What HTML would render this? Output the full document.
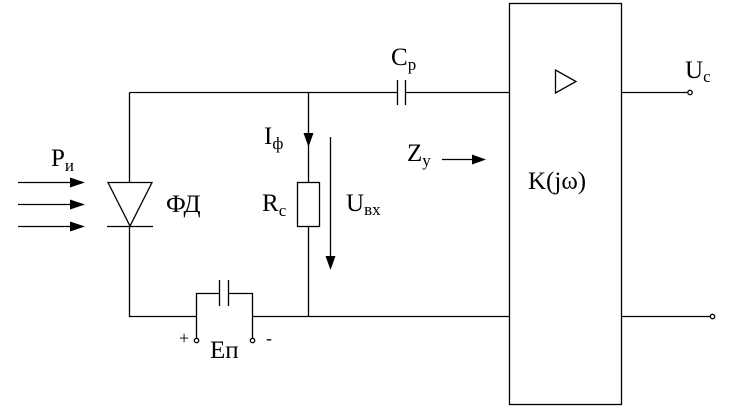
<!DOCTYPE html>
<html><head><meta charset="utf-8"><style>
html,body{margin:0;padding:0;background:#fff;width:735px;height:408px;overflow:hidden}
text{font-family:"Liberation Serif",serif;fill:#000}
.m{font-size:25px}.s{font-size:17px}
</style></head><body>
<svg width="735" height="408" viewBox="0 0 735 408" xmlns="http://www.w3.org/2000/svg">
<g stroke="#000" stroke-width="1.3" fill="none">
<rect x="509.5" y="3.5" width="112" height="401"/>
<path d="M129.5 92.5H397.5M405.5 92.5H509.5M621.5 92.5H687.5"/>
<path d="M397.5 80V105M405.5 80V105"/>
<path d="M129.5 92.5V182.5M129.5 226V316.5H196.5M252.5 316.5H509.5M621.5 316.5H710"/>
<path d="M108 182.5H152L130 226Z"/>
<path d="M107 226.5H153"/>
<path d="M308.5 92.5V182.5M308.5 226V316.5"/>
<rect x="297.5" y="182.5" width="22" height="44"/>
<path d="M330.5 137V258"/>
<path d="M196.5 339V293.5H219.5M228.5 293.5H252.5V339M219.5 280V306M228.5 280V306"/>
<path d="M18 182.5H72M18 204.5H72M18 226.5H72"/>
<path d="M442 159.5H474"/>
<path d="M555.5 70V93L576 81.5Z"/>
<circle cx="690" cy="92.5" r="2.2"/>
<circle cx="712.5" cy="316.5" r="2.2"/>
<circle cx="196.5" cy="340.5" r="2.2"/>
<circle cx="252.5" cy="340.5" r="2.2"/>
</g>
<g fill="#000">
<path d="M70 177.5L85 182.5L70 187.5Z"/>
<path d="M70 199.5L85 204.5L70 209.5Z"/>
<path d="M70 221.5L85 226.5L70 231.5Z"/>
<path d="M303.5 133L313.5 133L308.5 147Z"/>
<path d="M325.5 256L335.5 256L330.5 270Z"/>
<path d="M472 154.5L486 159.5L472 164.5Z"/>
</g>
<text class="m" x="51" y="166">P<tspan class="s" dy="5">и</tspan></text>
<text class="m" x="166" y="212">ФД</text>
<text class="m" x="264" y="144">I<tspan class="s" dy="5">ф</tspan></text>
<text class="m" x="262" y="211">R<tspan class="s" dy="5">c</tspan></text>
<text class="m" x="346" y="211">U<tspan class="s" dy="4">вх</tspan></text>
<text class="m" x="391" y="65">C<tspan class="s" dy="5">p</tspan></text>
<text class="m" x="407" y="161">Z<tspan class="s" dy="5">y</tspan></text>
<text class="m" x="528" y="189">K(jω)</text>
<text class="m" x="685" y="78">U<tspan class="s" dy="4">c</tspan></text>
<text class="m" x="210" y="358">Eп</text>
<text x="179" y="344" style="font-size:18px">+</text>
<text x="266" y="344" style="font-size:18px">-</text>
</svg>
</body></html>
